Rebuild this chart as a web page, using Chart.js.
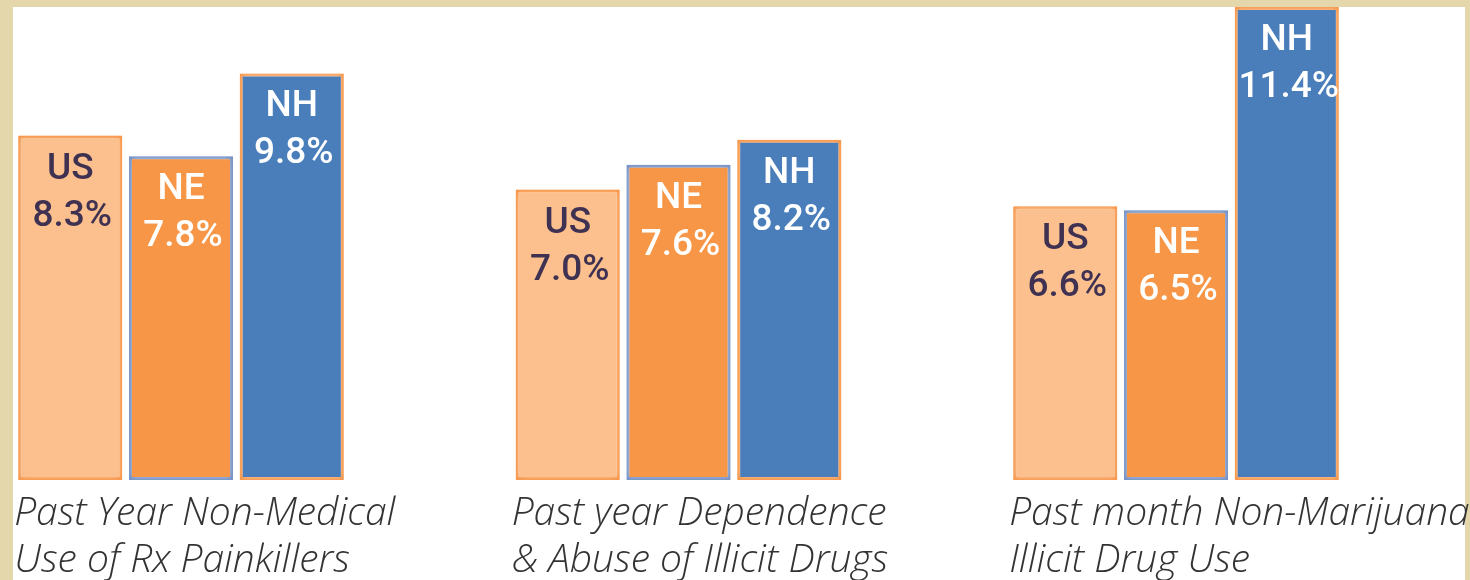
<!DOCTYPE html>
<html>
<head>
<meta charset="utf-8">
<script src="https://cdn.jsdelivr.net/npm/chart.js@4/dist/chart.umd.min.js"></script>
<style>
  html, body { margin: 0; padding: 0; background: #e3d7ab; }
  .frame {
    position: absolute; left: 13px; top: 7px;
    width: 1452px; height: 573px; background: #ffffff;
  }
  .wrap { position: absolute; left: 0; top: 0; width: 1470px; height: 580px; }
</style>
</head>
<body>
<div class="frame"></div>
<div class="wrap"><canvas id="drugChart" width="1470" height="580"></canvas></div>
<script>
// Chart data
const categories = [
    ['Past Year Non-Medical', 'Use of Rx Painkillers'],
    ['Past year Dependence', '& Abuse of Illicit Drugs'],
    ['Past month Non-Marijuana', 'Illicit Drug Use']
];
const seriesNames = ['US', 'NE', 'NH'];
const usValues = [8.3, 7.0, 6.6];
const neValues = [7.8, 7.6, 6.5];
const nhValues = [9.8, 8.2, 11.4];

const fills = ['#fbc08e', '#f79646', '#4a7ebb'];
const borders = ['#f7964a', '#7691c4', '#f7964a'];
const halos = ['#fcd5b4', '#b8cce4', '#fcd5b4'];
const textColors = ['#3f3151', '#ffffff', '#ffffff'];

// soft outer glow around each bar
const haloPlugin = {
    id: 'haloPlugin',
    beforeDatasetDraw(chart, args) {
        const ctx = chart.ctx;
        ctx.save();
        ctx.shadowColor = halos[args.index];
        ctx.shadowBlur = 5;
    },
    afterDatasetDraw(chart) {
        chart.ctx.restore();
    }
};

// Value labels inside bars, category captions under each group
const labelPlugin = {
    id: 'labelPlugin',
    afterDatasetsDraw(chart) {
        const ctx = chart.ctx;
        ctx.save();
        ctx.textAlign = 'center';
        ctx.textBaseline = 'alphabetic';
        ctx.font = '500 37px Roboto, sans-serif';
        chart.data.datasets.forEach((ds, i) => {
            const meta = chart.getDatasetMeta(i);
            meta.data.forEach((bar, j) => {
                ctx.fillStyle = textColors[i];
                ctx.fillText(seriesNames[i], bar.x, bar.y + 43);
                ctx.fillText(ds.data[j].toFixed(1) + '%', bar.x + 2, bar.y + 90);
            });
        });

        const first = chart.getDatasetMeta(0);
        const bottom = chart.chartArea.bottom;
        ctx.textAlign = 'left';
        ctx.fillStyle = '#333333';
        ctx.font = 'italic 300 39px "Open Sans", sans-serif';
        first.data.forEach((bar, j) => {
            const left = bar.x - bar.width / 2 - 4;
            ctx.fillText(categories[j][0], left, bottom + 45);
            ctx.fillText(categories[j][1], left, bottom + 92);
        });
        ctx.restore();
    }
};

document.addEventListener('DOMContentLoaded', function() {
    const ctx = document.getElementById('drugChart').getContext('2d');
    const values = [usValues, neValues, nhValues];

    new Chart(ctx, {
        type: 'bar',
        data: {
            labels: categories.map(c => c.join(' ')),
            datasets: seriesNames.map((name, i) => ({
                label: name,
                data: values[i],
                backgroundColor: fills[i],
                borderColor: borders[i],
                borderWidth: 3,
                borderSkipped: false,
                barPercentage: 0.94,
                categoryPercentage: 0.668,
                clip: false
            }))
        },
        plugins: [haloPlugin, labelPlugin],
        options: {
            responsive: false,
            animation: false,
            layout: {
                padding: { left: 181, right: 294, top: 7, bottom: 100 }
            },
            scales: {
                x: {
                    display: false,
                    offset: false,
                    grid: { display: false }
                },
                y: {
                    display: false,
                    min: 0,
                    max: 11.4
                }
            },
            plugins: {
                legend: { display: false },
                tooltip: { enabled: false }
            }
        }
    });
});
</script>
</body>
</html>
